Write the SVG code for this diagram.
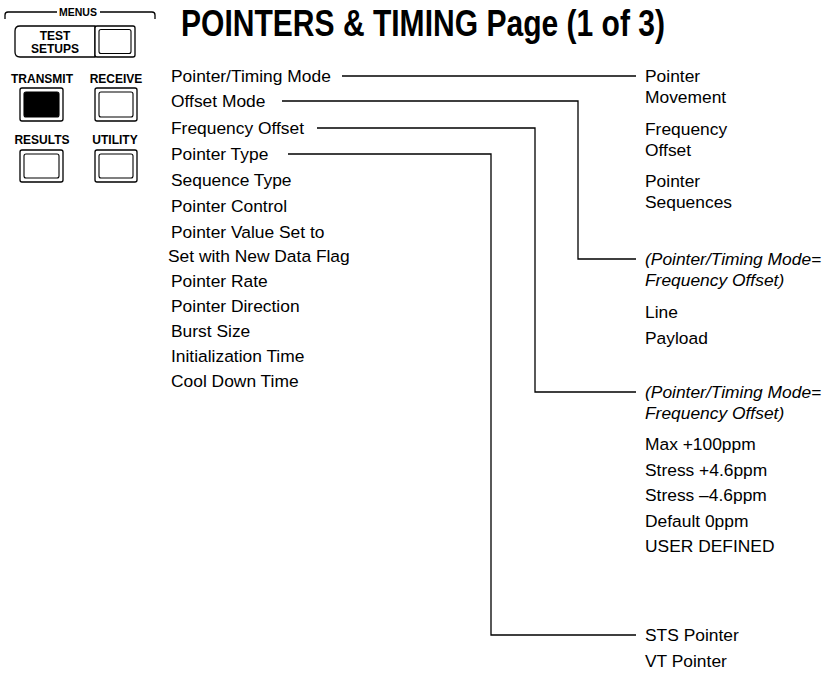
<svg xmlns="http://www.w3.org/2000/svg" width="826" height="681" viewBox="0 0 826 681">
<style>
.t{font-family:"Liberation Sans",Arial,sans-serif;font-size:17.4px;fill:#000}
.it{font-style:italic}
.lbl{font-family:"Liberation Sans",Arial,sans-serif;font-weight:bold;font-size:12px;fill:#000;text-anchor:middle}
.title{font-family:"Liberation Sans",Arial,sans-serif;font-weight:bold;font-size:37px;fill:#000}
.conn{fill:none;stroke:#000;stroke-width:1.3}
.outer{fill:#fff;stroke:#000;stroke-width:1.3}
.inner{fill:#fff;stroke:#000;stroke-width:1.1}
.dark{fill:#000;stroke:#000;stroke-width:1.1}
</style>
<rect width="826" height="681" fill="#fff"/>

<g id="menus-panel">
  <path class="conn" d="M5,19 V15 Q5,12 8,12 H57 M100,12 H152 Q155,12 155,15 V19"/>
  <text x="78" y="16" class="lbl" style="font-size:10.5px">MENUS</text>
  <g id="btn-test-setups">
    <path class="outer" d="M95,26 H20 Q15,26 15,31 V52 Q15,57 20,57 H95 Z"/>
    <text x="55" y="39.5" class="lbl">TEST</text>
    <text x="55" y="53" class="lbl">SETUPS</text>
    <rect class="outer" x="95" y="26" width="40" height="31" rx="2"/>
    <rect class="inner" x="99" y="29.5" width="32" height="24" rx="2"/>
  </g>
  <g id="btn-transmit">
    <text x="42" y="83" class="lbl">TRANSMIT</text>
    <rect class="outer" x="20" y="88" width="43" height="33" rx="2"/>
    <rect class="dark" x="24" y="92" width="35" height="25" rx="2"/>
  </g>
  <g id="btn-receive">
    <text x="116" y="83" class="lbl">RECEIVE</text>
    <rect class="outer" x="95" y="88" width="42" height="33" rx="2"/>
    <rect class="inner" x="99" y="92" width="34" height="25" rx="2"/>
  </g>
  <g id="btn-results">
    <text x="42" y="144" class="lbl">RESULTS</text>
    <rect class="outer" x="20" y="150" width="43" height="32" rx="2"/>
    <rect class="inner" x="24" y="154" width="35" height="24" rx="2"/>
  </g>
  <g id="btn-utility">
    <text x="115" y="144" class="lbl">UTILITY</text>
    <rect class="outer" x="95" y="150" width="42" height="32" rx="2"/>
    <rect class="inner" x="99" y="154" width="34" height="24" rx="2"/>
  </g>
</g>

<text id="title" x="181" y="36" class="title" textLength="484" lengthAdjust="spacingAndGlyphs">POINTERS &amp; TIMING Page (1 of 3)</text>

<g id="connectors">
  <path class="conn" d="M342,76 H636"/>
  <path class="conn" d="M282,101 H578 V259 H636"/>
  <path class="conn" d="M317,128 H535 V392 H636"/>
  <path class="conn" d="M288,154 H491 V635 H636"/>
</g>

<g id="menu-items">
  <g id="n-ptmode"><text class="t" x="171" y="82">Pointer/Timing Mode</text></g>
  <g id="n-offsetmode"><text class="t" x="171" y="107">Offset Mode</text></g>
  <g id="n-freqoffset"><text class="t" x="171" y="134">Frequency Offset</text></g>
  <g id="n-ptrtype"><text class="t" x="171" y="160">Pointer Type</text></g>
  <g id="n-seqtype"><text class="t" x="171" y="186">Sequence Type</text></g>
  <g id="n-ptrcontrol"><text class="t" x="171" y="212">Pointer Control</text></g>
  <g id="n-ptrvalue"><text class="t" x="171" y="238">Pointer Value Set to</text></g>
  <g id="n-ndf"><text class="t" x="168" y="262">Set with New Data Flag</text></g>
  <g id="n-ptrrate"><text class="t" x="171" y="287">Pointer Rate</text></g>
  <g id="n-ptrdir"><text class="t" x="171" y="312">Pointer Direction</text></g>
  <g id="n-burst"><text class="t" x="171" y="337">Burst Size</text></g>
  <g id="n-init"><text class="t" x="171" y="362">Initialization Time</text></g>
  <g id="n-cool"><text class="t" x="171" y="387">Cool Down Time</text></g>
</g>

<g id="options">
  <g id="o-ptrmove"><text class="t" x="645" y="82">Pointer</text><text class="t" x="645" y="103">Movement</text></g>
  <g id="o-freqoff"><text class="t" x="645" y="135">Frequency</text><text class="t" x="645" y="156">Offset</text></g>
  <g id="o-ptrseq"><text class="t" x="645" y="187">Pointer</text><text class="t" x="645" y="208">Sequences</text></g>
  <g id="o-cond1"><text class="t it" x="645" y="265">(Pointer/Timing Mode=</text><text class="t it" x="645" y="286">Frequency Offset)</text></g>
  <g id="o-line"><text class="t" x="645" y="318">Line</text></g>
  <g id="o-payload"><text class="t" x="645" y="344">Payload</text></g>
  <g id="o-cond2"><text class="t it" x="645" y="398">(Pointer/Timing Mode=</text><text class="t it" x="645" y="419">Frequency Offset)</text></g>
  <g id="o-max"><text class="t" x="645" y="450">Max +100ppm</text></g>
  <g id="o-stressp"><text class="t" x="645" y="476">Stress +4.6ppm</text></g>
  <g id="o-stressm"><text class="t" x="645" y="501">Stress –4.6ppm</text></g>
  <g id="o-default"><text class="t" x="645" y="527">Default 0ppm</text></g>
  <g id="o-user"><text class="t" x="645" y="552">USER DEFINED</text></g>
  <g id="o-sts"><text class="t" x="645" y="641">STS Pointer</text></g>
  <g id="o-vt"><text class="t" x="645" y="667">VT Pointer</text></g>
</g>
</svg>
